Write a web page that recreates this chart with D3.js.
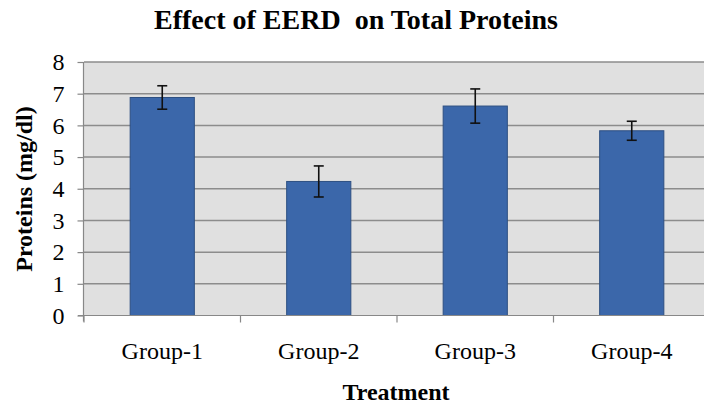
<!DOCTYPE html>
<html><head><meta charset="utf-8">
<script src="https://cdn.jsdelivr.net/npm/d3@7"></script>
<style>html,body{margin:0;padding:0;background:#fff;overflow:hidden}</style>
</head><body>
<svg id="c" width="704" height="406"></svg>
<script>
const categories = ["Group-1", "Group-2", "Group-3", "Group-4"];
const values = [6.88, 4.23, 6.61, 5.83];
const errors = [0.37, 0.49, 0.54, 0.30];
const yTicks = [0, 1, 2, 3, 4, 5, 6, 7, 8];

const svg = d3.select("#c");
const L = 84, R = 710, T = 62, B = 315.5;
const x = d3.scaleBand().domain(categories).range([L, R]).paddingInner(0.59).paddingOuter(0.295);
const y = d3.scaleLinear().domain([0, 8]).range([B, T]);
const serif = "'Liberation Serif','Times New Roman',serif";

svg.append("rect").attr("x", L).attr("y", T).attr("width", R - L).attr("height", B - T).attr("fill", "#e0e0e0");

// gridlines
svg.append("g").selectAll("line").data(yTicks.filter(d => d > 0)).join("line")
  .attr("x1", L).attr("x2", R).attr("y1", d => y(d)).attr("y2", d => y(d))
  .attr("stroke", "#8c8c8c").attr("stroke-width", 1.5);

// bars
svg.append("g").selectAll("rect").data(categories).join("rect")
  .attr("x", d => x(d)).attr("width", x.bandwidth())
  .attr("y", (d, i) => y(values[i])).attr("height", (d, i) => B - y(values[i]))
  .attr("fill", "#3b67aa").attr("stroke", "#2d4f82").attr("stroke-width", 1);

// error bars
const eg = svg.append("g").attr("stroke", "#111").attr("stroke-width", 1.6);
categories.forEach((c, i) => {
  const cx = x(c) + x.bandwidth() / 2;
  const y1 = y(values[i] + errors[i]), y2 = y(values[i] - errors[i]);
  eg.append("line").attr("x1", cx).attr("x2", cx).attr("y1", y1).attr("y2", y2);
  eg.append("line").attr("x1", cx - 5).attr("x2", cx + 5).attr("y1", y1).attr("y2", y1);
  eg.append("line").attr("x1", cx - 5).attr("x2", cx + 5).attr("y1", y2).attr("y2", y2);
});

// y axis
const yAxis = d3.axisLeft(y).tickValues(yTicks).tickSize(6).tickPadding(13).tickFormat(d3.format("d"));
const yg = svg.append("g").attr("transform", `translate(${L - 0.5},0)`).call(yAxis);
yg.select(".domain").remove();
yg.append("line").attr("x1", 0).attr("x2", 0).attr("y1", T).attr("y2", B + 6).attr("stroke", "#888").attr("stroke-width", 1.2);
yg.selectAll(".tick line").attr("stroke", "#888").attr("stroke-width", 1.2);
yg.selectAll(".tick text").attr("font-family", serif).attr("font-size", 24).attr("fill", "#000");

// x axis
const xg = svg.append("g").attr("transform", `translate(0,${B})`);
xg.append("line").attr("x1", L - 6).attr("x2", R).attr("y1", 0).attr("y2", 0).attr("stroke", "#888").attr("stroke-width", 1.2);
const step = x.step();
const bounds = d3.range(categories.length).map(i => L + i * step);
xg.selectAll("line.tk").data(bounds).join("line").attr("class", "tk")
  .attr("x1", d => d).attr("x2", d => d).attr("y1", 0).attr("y2", 7)
  .attr("stroke", "#888").attr("stroke-width", 1.2);
xg.selectAll("text").data(categories).join("text")
  .attr("x", d => x(d) + x.bandwidth() / 2).attr("y", 43)
  .attr("text-anchor", "middle").attr("font-family", serif).attr("font-size", 24).attr("fill", "#000")
  .text(d => d);

// titles
svg.append("text").attr("x", 356).attr("y", 29).attr("text-anchor", "middle").attr("xml:space", "preserve")
  .attr("font-family", serif).attr("font-weight", "bold").attr("font-size", 28).text("Effect of EERD  on Total Proteins");
svg.append("text").attr("x", 396).attr("y", 400).attr("text-anchor", "middle")
  .attr("font-family", serif).attr("font-weight", "bold").attr("font-size", 24).text("Treatment");
svg.append("text").attr("transform", "translate(32,189) rotate(-90)").attr("text-anchor", "middle")
  .attr("font-family", serif).attr("font-weight", "bold").attr("font-size", 24).text("Proteins (mg/dl)");
</script>
</body></html>
